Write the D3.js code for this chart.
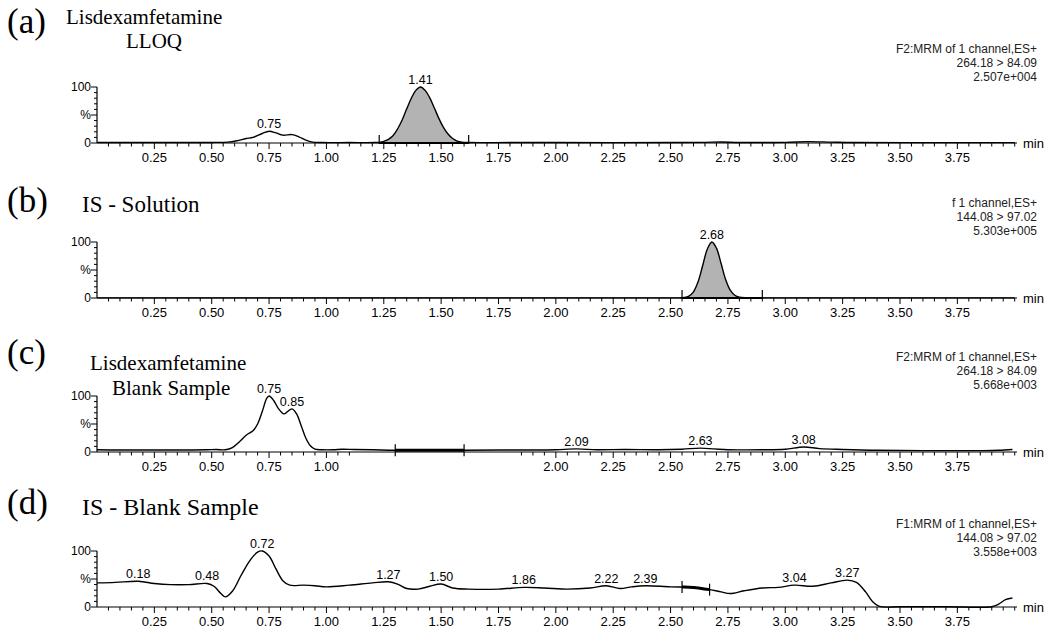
<!DOCTYPE html>
<html><head><meta charset="utf-8">
<script src="https://cdn.jsdelivr.net/npm/d3@7"></script>
<style>body{margin:0;background:#fff}svg{display:block}</style>
</head><body>
<svg id="c" width="1049" height="628"></svg>
<script>
// ---------- data ----------
const panelLetters = ["(a)", "(b)", "(c)", "(d)"];
const panelTitles = [["Lisdexamfetamine", "LLOQ"], ["IS - Solution"], ["Lisdexamfetamine", "Blank Sample"], ["IS - Blank Sample"]];
const panelHeaders = [
  ["F2:MRM of 1 channel,ES+", "264.18 > 84.09", "2.507e+004"],
  ["f 1 channel,ES+", "144.08 > 97.02", "5.303e+005"],
  ["F2:MRM of 1 channel,ES+", "264.18 > 84.09", "5.668e+003"],
  ["F1:MRM of 1 channel,ES+", "144.08 > 97.02", "3.558e+003"]
];
const majorTicks = [0.25, 0.50, 0.75, 1.00, 1.25, 1.50, 1.75, 2.00, 2.25, 2.50, 2.75, 3.00, 3.25, 3.50, 3.75];
const yTickLabels = ["0", "%", "100"];
const timeDomain = [0, 4.01];

const traceA = [[0,0.8],[0.1,0.8],[0.2,0.8],[0.3,0.8],[0.4,0.8],[0.5,1],[0.57,1.5],[0.61,4],[0.65,8],[0.68,10],[0.72,17],[0.75,21],[0.78,18],[0.81,14],[0.85,15],[0.88,11],[0.91,5],[0.94,1.5],[0.98,0.8],[1.1,0.8],[1.21,0.8],[1.23,1.2],[1.25,3],[1.27,6.5],[1.29,13],[1.31,25],[1.33,41],[1.35,61],[1.37,80],[1.39,94],[1.41,100],[1.43,94],[1.45,81],[1.47,63],[1.49,44],[1.51,28],[1.53,16],[1.55,8],[1.57,3.5],[1.59,1.5],[1.62,0.8],[1.8,0.8],[2.0,0.8],[2.5,0.8],[2.65,1.2],[2.72,1.8],[2.8,1],[3.0,1.2],[3.1,2.5],[3.2,1.6],[3.3,0.8],[3.6,0.6],[4.0,0.6]];
const traceB = [[0,0.3],[0.5,0.3],[1.0,0.3],[1.5,0.3],[2.0,0.3],[2.5,0.3],[2.54,0.3],[2.56,1],[2.58,3.5],[2.60,11],[2.62,29],[2.64,58],[2.66,87],[2.68,100],[2.70,89],[2.72,62],[2.74,33],[2.76,14],[2.78,5],[2.80,1.6],[2.83,0.5],[2.9,0.3],[3.2,0.3],[3.6,0.3],[4.0,0.3]];
const traceC = [[0,4],[0.1,3.5],[0.2,3.5],[0.3,3.5],[0.4,3.5],[0.48,4],[0.52,4.5],[0.56,4],[0.59,8],[0.62,18],[0.65,30],[0.68,38],[0.70,50],[0.72,72],[0.74,96],[0.75,100],[0.77,92],[0.79,78],[0.815,68],[0.83,72],[0.85,77],[0.87,68],[0.89,47],[0.91,25],[0.93,11],[0.95,5],[0.98,4],[1.03,4],[1.07,5],[1.12,4.5],[1.2,4],[1.3,3],[1.45,3],[1.6,3],[1.75,3.5],[1.9,3.5],[2.0,4],[2.09,5.5],[2.18,4],[2.3,4.5],[2.45,4],[2.55,5],[2.63,7],[2.69,5.5],[2.75,4],[2.9,4],[3.0,5],[3.08,9],[3.15,6],[3.25,4.5],[3.4,3],[3.6,2.5],[3.85,2.5],[3.93,3],[3.99,4.5]];
const traceD = [[0,43],[0.08,44],[0.18,46],[0.25,42],[0.32,40],[0.4,40],[0.48,42],[0.51,37],[0.54,24],[0.56,18],[0.59,28],[0.63,58],[0.67,85],[0.70,98],[0.72,100],[0.75,91],[0.78,68],[0.81,47],[0.84,39],[0.9,39],[0.95,38],[1.0,36],[1.1,39],[1.2,43],[1.27,45],[1.31,41],[1.35,33],[1.40,32],[1.45,37],[1.50,41],[1.55,34],[1.62,32],[1.75,32],[1.86,35],[1.95,34],[2.05,32],[2.15,34],[2.22,38],[2.28,33],[2.33,36],[2.39,38],[2.5,36],[2.6,35],[2.67,31],[2.72,27],[2.76,24],[2.82,29],[2.9,34],[2.97,35],[3.04,39],[3.12,37],[3.2,43],[3.27,48],[3.31,44],[3.35,27],[3.38,10],[3.41,1],[3.5,0.5],[3.7,0.5],[3.9,0.5],[3.93,5],[3.96,13],[3.99,16]];
const traces = [traceA, traceB, traceC, traceD];

const peaksA = [0.75, 1.41];
const peaksB = [2.68];
const peaksC = [0.75, 0.85, 2.09, 2.63, 3.08];
const peaksD = [0.18, 0.48, 0.72, 1.27, 1.50, 1.86, 2.22, 2.39, 3.04, 3.27];
const peaks = [peaksA, peaksB, peaksC, peaksD];

const integA = [1.23, 1.62];
const integB = [2.55, 2.90];
const integC = [1.30, 1.60];
const integD = [2.55, 2.67];
const integrations = [integA, integB, integC, integD];
const filled = [true, true, false, false];
const tickGapC = [1.12, 1.83];
// ---------- layout ----------
const W = 1049, H = 628;
const bases = [143, 298, 452, 607];
const plotH = 56;
const x = d3.scaleLinear().domain(timeDomain).range([97, 1017]);
const svg = d3.select("#c");
svg.append("rect").attr("width", W).attr("height", H).attr("fill", "#fff");
const sans = "Liberation Sans, Arial, Helvetica, sans-serif";
const serif = "Liberation Serif, Times New Roman, serif";

const letterY = [33, 212, 364, 514];
const titleY = [[24, 48], [212], [370, 395], [515]];
const titleX = [[66, 126], [82], [90, 112], [82]];
const titleSize = [21, 23, 21, 24];
const headerY = [[53, 67, 81], [207, 221, 235], [361, 375, 389], [528, 542, 556]];

const minors = d3.range(1, 81).map(i => i * 0.05).filter(t => t < timeDomain[1] && !majorTicks.some(m => Math.abs(m - t) < 1e-6));

function interp(tr, t) {
  const i = d3.bisector(d => d[0]).left(tr, t);
  if (i <= 0) return tr[0][1];
  if (i >= tr.length) return tr[tr.length - 1][1];
  const a = tr[i - 1], b = tr[i];
  return a[1] + (b[1] - a[1]) * (t - a[0]) / (b[0] - a[0]);
}

bases.forEach((base, p) => {
  const g = svg.append("g");
  const y = d3.scaleLinear().domain([0, 100]).range([base, base - plotH]);
  const gap = p === 2 ? tickGapC : null;
  const inGap = t => gap && t > gap[0] && t < gap[1];

  // letters and titles
  g.append("text").attr("x", 7).attr("y", letterY[p]).attr("font-family", serif).attr("font-size", 35).text(panelLetters[p]);
  panelTitles[p].forEach((s, i) => {
    g.append("text").attr("x", titleX[p][i]).attr("y", titleY[p][i]).attr("font-family", serif).attr("font-size", titleSize[p]).text(s);
  });
  // header right
  panelHeaders[p].forEach((s, i) => {
    g.append("text").attr("x", 1037).attr("y", headerY[p][i]).attr("text-anchor", "end")
      .attr("font-family", sans).attr("font-size", 12).attr("fill", "#222").text(s);
  });

  // y axis
  g.append("line").attr("x1", x(0)).attr("x2", x(0)).attr("y1", y(100)).attr("y2", y(0)).attr("stroke", "#000").attr("stroke-width", 1.2);
  d3.range(0, 101, 10).forEach(v => {
    const major = v === 0 || v === 50 || v === 100;
    g.append("line").attr("x1", x(0) - (major ? 6 : 3)).attr("x2", x(0)).attr("y1", y(v)).attr("y2", y(v)).attr("stroke", "#000").attr("stroke-width", 1);
  });
  [[0, yTickLabels[0]], [50, yTickLabels[1]], [100, yTickLabels[2]]].forEach(([v, s]) => {
    g.append("text").attr("x", x(0) - 6).attr("y", y(v) + 4).attr("text-anchor", "end")
      .attr("font-family", sans).attr("font-size", 12).text(s);
  });

  // x axis
  g.append("line").attr("x1", x(0)).attr("x2", x(timeDomain[1])).attr("y1", base).attr("y2", base).attr("stroke", "#000").attr("stroke-width", 1.2);
  minors.filter(t => !inGap(t)).forEach(t => {
    g.append("line").attr("x1", x(t)).attr("x2", x(t)).attr("y1", base).attr("y2", base + 3.5).attr("stroke", "#000").attr("stroke-width", 1);
  });
  majorTicks.filter(t => !inGap(t)).forEach(t => {
    g.append("line").attr("x1", x(t)).attr("x2", x(t)).attr("y1", base).attr("y2", base + 6).attr("stroke", "#000").attr("stroke-width", 1);
    g.append("text").attr("x", x(t)).attr("y", base + 19).attr("text-anchor", "middle")
      .attr("font-family", sans).attr("font-size", 13).text(t.toFixed(2));
  });
  g.append("text").attr("x", 1023).attr("y", base + 5).attr("font-family", sans).attr("font-size", 13).text("min");

  const tr = traces[p];
  const line = d3.line().x(d => x(d[0])).y(d => y(d[1])).curve(d3.curveCatmullRom.alpha(0.5));
  const integ = integrations[p];
  const seg = tr.filter(d => d[0] >= integ[0] && d[0] <= integ[1]);
  const pts = [[integ[0], interp(tr, integ[0])], ...seg, [integ[1], interp(tr, integ[1])]];
  if (filled[p]) {
    const area = d3.area().x(d => x(d[0])).y0(y(0)).y1(d => y(d[1])).curve(d3.curveCatmullRom.alpha(0.5));
    g.append("path").attr("d", area(pts)).attr("fill", "#b3b3b3");
    g.append("line").attr("x1", x(integ[0])).attr("x2", x(integ[1])).attr("y1", base).attr("y2", base).attr("stroke", "#000").attr("stroke-width", 2);
  } else {
    g.append("path").attr("d", line(pts)).attr("fill", "none").attr("stroke", "#000").attr("stroke-width", 3);
  }
  g.append("path").attr("d", line(tr)).attr("fill", "none").attr("stroke", "#000").attr("stroke-width", 1.4);
  integ.forEach(t => {
    const yv = filled[p] ? base : y(interp(tr, t));
    const up = filled[p] ? 8 : 6, dn = filled[p] ? 1 : 6;
    g.append("line").attr("x1", x(t)).attr("x2", x(t)).attr("y1", yv - up).attr("y2", yv + dn).attr("stroke", "#000").attr("stroke-width", 1.2);
  });

  peaks[p].forEach(t => {
    g.append("text").attr("x", x(t)).attr("y", y(interp(tr, t)) - 3).attr("text-anchor", "middle")
      .attr("font-family", sans).attr("font-size", 12.5).text(t.toFixed(2));
  });
});
</script>
</body></html>
